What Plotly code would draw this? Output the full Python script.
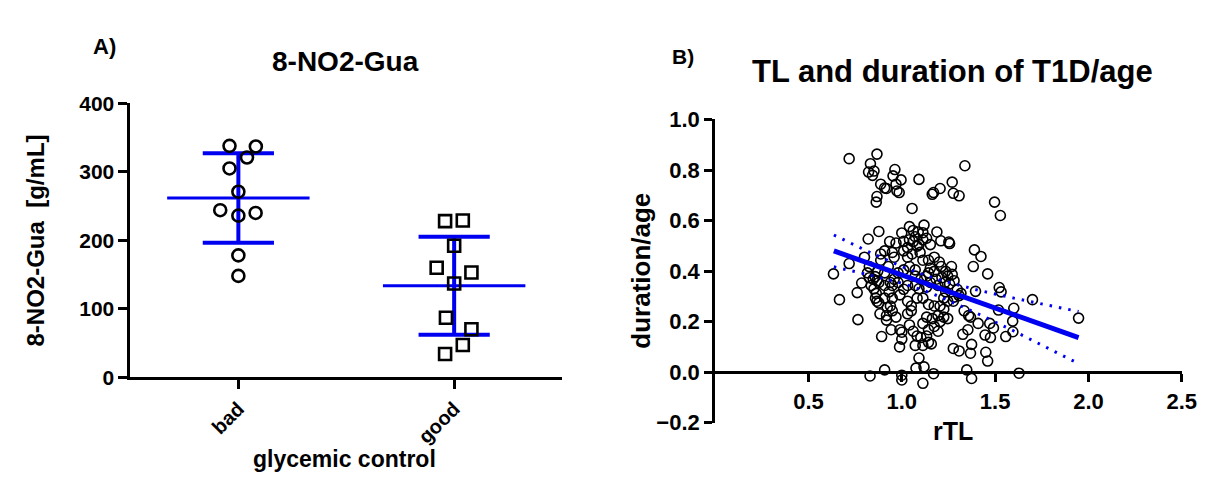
import numpy as np
import plotly.graph_objects as go

# ---------------- data ----------------
categories = ["bad", "good"]
bad_values = [338, 337, 321, 305, 271, 244, 236, 240, 178, 148]
bad_jitter = [-0.041, 0.081, 0.040, -0.041, 0.0, -0.084, 0.0, 0.080, 0.0, 0.0]
good_values = [228, 229, 192, 160, 153, 137, 87, 70, 47, 34]
good_jitter = [-0.042, 0.040, 0.0, -0.081, 0.080, 0.0, -0.038, 0.080, 0.040, -0.042]

a_yticks = [0, 100, 200, 300, 400]

rtl = [0.718, 0.867, 0.832, 0.822, 0.851, 0.843, 0.963, 0.953, 0.996, 0.887, 0.908, 0.918, 0.969, 0.986,
       0.974, 0.867, 0.863, 1.092, 1.055, 1.170, 1.163, 1.205, 1.270, 1.276, 1.307, 1.338, 1.497, 1.528,
       1.119, 1.041, 1.061, 1.088, 1.000, 1.113, 1.188, 0.877, 0.820, 0.935, 1.061, 1.092, 1.209, 1.252,
       1.256, 1.389, 1.424, 1.383, 1.460, 1.522, 1.532, 1.700, 1.600, 1.518, 1.947, 1.594, 1.595, 1.557,
       1.471, 1.491, 1.475, 1.446, 1.409, 1.358, 1.368, 1.334, 1.395, 1.307, 1.317, 1.280, 1.276, 1.354,
       1.327, 1.374, 1.368, 1.276, 1.307, 1.450, 1.460, 1.348, 1.374, 1.628, 1.113, 1.170, 1.119, 1.076,
       1.092, 1.000, 1.000, 0.908, 0.830, 0.988, 1.000, 1.000, 0.943, 0.892, 0.918, 0.883, 0.922, 0.939,
       0.877, 0.867, 0.859, 0.851, 0.863, 0.785, 0.761, 0.765, 0.666, 0.634, 0.718, 0.800, 0.826, 0.847,
       0.867, 0.887, 0.887, 0.949, 0.959, 1.010, 1.031, 1.031, 1.055, 1.082, 1.098, 1.113, 1.143, 1.174,
       1.201, 1.211, 1.174, 1.143, 1.246, 1.266, 1.270, 1.280, 1.256, 1.297, 1.231, 1.194, 1.153, 1.133,
       1.092, 1.072, 1.031, 1.010, 0.980, 0.949, 0.932, 0.908, 0.949, 0.990, 1.031, 1.051, 1.082, 1.113,
       1.143, 1.174, 1.205, 1.225, 1.246, 1.225, 1.194, 1.164, 1.133, 1.113, 1.143, 1.174, 1.194, 1.205,
       1.133, 1.102, 1.082, 1.113, 1.143, 1.158, 1.072, 1.041, 1.061, 1.031, 1.051, 0.990, 0.969, 0.949,
       0.908, 0.939, 0.959, 0.908, 0.871, 0.857, 0.826, 0.816, 0.836, 0.877, 0.928, 0.980, 1.010, 1.041,
       1.072, 1.072, 1.102, 1.133, 1.153, 1.184, 1.215, 1.235, 0.969, 1.010, 1.041, 1.072, 1.235, 1.225,
       1.246, 0.918, 0.908, 1.133, 1.153, 1.113]
duration_age = [0.845, 0.863, 0.825, 0.792, 0.796, 0.779, 0.802, 0.777, 0.761, 0.744, 0.729, 0.727, 0.744, 0.711,
                0.717, 0.695, 0.673, 0.763, 0.648, 0.711, 0.704, 0.727, 0.752, 0.708, 0.698, 0.817, 0.673, 0.620,
                0.582, 0.576, 0.561, 0.555, 0.551, 0.552, 0.555, 0.557, 0.527, 0.517, 0.517, 0.505, 0.520, 0.515,
                0.509, 0.484, 0.458, 0.418, 0.389, 0.335, 0.318, 0.287, 0.253, 0.246, 0.214, 0.202, 0.160, 0.141,
                0.193, 0.175, 0.137, 0.147, 0.193, 0.224, 0.218, 0.243, 0.320, 0.303, 0.312, 0.297, 0.281, 0.168,
                0.150, 0.110, 0.075, 0.094, 0.084, 0.079, 0.044, 0.009, -0.025, -0.004, -0.044, -0.006, 0.021, 0.016,
                0.056, -0.012, -0.031, 0.009, -0.015, 0.100, 0.131, 0.158, 0.168, 0.141, 0.206, 0.231, 0.256, 0.262,
                0.274, 0.281, 0.293, 0.330, 0.312, 0.353, 0.315, 0.208, 0.287, 0.389, 0.430, 0.455, 0.418, 0.368,
                0.362, 0.443, 0.468, 0.474, 0.455, 0.480, 0.493, 0.455, 0.468, 0.499, 0.474, 0.443, 0.443, 0.455,
                0.436, 0.418, 0.399, 0.393, 0.380, 0.418, 0.387, 0.362, 0.349, 0.328, 0.355, 0.343, 0.355, 0.337,
                0.330, 0.343, 0.343, 0.328, 0.355, 0.343, 0.318, 0.293, 0.293, 0.306, 0.281, 0.262, 0.293, 0.293,
                0.268, 0.262, 0.262, 0.249, 0.212, 0.218, 0.224, 0.212, 0.218, 0.193, 0.168, 0.181, 0.162, 0.200,
                0.143, 0.137, 0.143, 0.106, 0.118, 0.112, 0.106, 0.187, 0.162, 0.231, 0.243, 0.168, 0.218, 0.243,
                0.343, 0.355, 0.368, 0.393, 0.399, 0.378, 0.374, 0.393, 0.343, 0.355, 0.418, 0.393, 0.405, 0.418,
                0.405, 0.380, 0.368, 0.380, 0.412, 0.368, 0.374, 0.399, 0.511, 0.518, 0.524, 0.536, 0.318, 0.293,
                0.281, 0.224, 0.480, 0.530, 0.505, 0.524]

fit_x = [0.636, 0.815, 1.0, 1.1, 1.2, 1.4, 1.6, 1.8, 1.947]
fit_y = [0.480, 0.433, 0.385, 0.359, 0.333, 0.280, 0.228, 0.175, 0.137]
ci_upper = [0.543, 0.479, 0.418, 0.390, 0.366, 0.326, 0.293, 0.262, 0.240]
ci_lower = [0.417, 0.387, 0.352, 0.328, 0.300, 0.234, 0.163, 0.088, 0.034]

b_xticks = [0.5, 1.0, 1.5, 2.0, 2.5]
b_yticks = [-0.2, 0.0, 0.2, 0.4, 0.6, 0.8, 1.0]

# ---------------- layout helpers ----------------
W, H = 1212, 477
def PX(x):
    return x / W
def PY(y):
    return 1 - y / H

FONT = "Liberation Sans, Arial, Helvetica, sans-serif"
BLUE = "#0000f0"

fig = go.Figure()

# ----- panel A -----
groups = [(0, bad_values, bad_jitter, "circle-open"), (1, good_values, good_jitter, "square-open")]
for pos, vals, jit, sym in groups:
    v = np.array(vals, dtype=float)
    m = v.mean()
    s = v.std(ddof=1)
    fig.add_trace(go.Scatter(x=[pos - 0.33, pos + 0.33], y=[m, m], mode="lines",
                             line=dict(color=BLUE, width=3), xaxis="x", yaxis="y", showlegend=False))
    fig.add_trace(go.Scatter(x=[pos, pos], y=[m - s, m + s], mode="lines",
                             line=dict(color=BLUE, width=4), xaxis="x", yaxis="y", showlegend=False))
    fig.add_trace(go.Scatter(x=[pos - 0.165, pos + 0.165, None, pos - 0.165, pos + 0.165],
                             y=[m + s, m + s, None, m - s, m - s], mode="lines",
                             line=dict(color=BLUE, width=4), xaxis="x", yaxis="y", showlegend=False))
    fig.add_trace(go.Scatter(x=[pos + j for j in jit], y=vals, mode="markers",
                             marker=dict(symbol=sym, size=12, color="black", line=dict(width=2.6, color="black")),
                             xaxis="x", yaxis="y", showlegend=False, cliponaxis=False))

# ----- panel B -----
fig.add_trace(go.Scatter(x=rtl, y=duration_age, mode="markers",
                         marker=dict(symbol="circle-open", size=10, color="black", line=dict(width=1.6, color="black")),
                         xaxis="x2", yaxis="y2", showlegend=False, cliponaxis=False))
fig.add_trace(go.Scatter(x=fit_x, y=ci_upper, mode="lines", line=dict(color=BLUE, width=3, dash="2.5px,7px"),
                         xaxis="x2", yaxis="y2", showlegend=False))
fig.add_trace(go.Scatter(x=fit_x, y=ci_lower, mode="lines", line=dict(color=BLUE, width=3, dash="2.5px,7px"),
                         xaxis="x2", yaxis="y2", showlegend=False))
fig.add_trace(go.Scatter(x=[fit_x[0], fit_x[-1]], y=[fit_y[0], fit_y[-1]], mode="lines",
                         line=dict(color=BLUE, width=5), xaxis="x2", yaxis="y2", showlegend=False))

axis_common = dict(showline=True, linecolor="black", showgrid=False, zeroline=False,
                   ticks="outside", tickcolor="black", fixedrange=True)

b_ydom = [PY(425), PY(105)]
b_x_pos = b_ydom[0] + (0 - (-0.2)) / 1.2 * (b_ydom[1] - b_ydom[0])

fig.update_layout(
    width=W, height=H,
    margin=dict(l=0, r=0, t=0, b=0),
    paper_bgcolor="white", plot_bgcolor="white",
    font=dict(family=FONT, color="black", weight=700),
    xaxis=dict(**axis_common, domain=[PX(124), PX(561)], range=[-0.5, 1.5], anchor="y",
               tickvals=[0, 1], ticktext=categories, tickangle=-45, linewidth=3, tickwidth=3, ticklen=9,
               tickfont=dict(size=20, family=FONT, weight=700, color="black")),
    yaxis=dict(**axis_common, domain=[PY(377), PY(88)], range=[0, 400], anchor="x",
               tickvals=a_yticks, linewidth=3, tickwidth=3, ticklen=9,
               tickfont=dict(size=21, family=FONT, weight=700, color="black")),
    xaxis2=dict(**axis_common, domain=[PX(716), PX(1188.5)], range=[0, 2.5], anchor="free", position=b_x_pos,
                tickvals=b_xticks, tickformat=".1f", linewidth=3, tickwidth=3, ticklen=8,
                tickfont=dict(size=22, family=FONT, weight=700, color="black")),
    yaxis2=dict(**axis_common, domain=b_ydom, range=[-0.2, 1.0], anchor="x2",
                tickvals=b_yticks, tickformat=".1f", linewidth=3, tickwidth=3, ticklen=8,
                tickfont=dict(size=22, family=FONT, weight=700, color="black")),
)

def ann(text, x, y, size, angle=0):
    fig.add_annotation(text=text, x=PX(x), y=PY(y), xref="paper", yref="paper",
                       xanchor="center", yanchor="middle", showarrow=False, textangle=angle,
                       font=dict(size=size, family=FONT, weight=700, color="black"))

ann("A)", 97.5, 28, 22)
ann("8-NO2-Gua", 342, 44, 28)
ann("8-NO2-Gua  [g/mL]", 27.5, 232.5, 24, -90)
ann("glycemic control", 340.5, 463, 23)
ann("B)", 683, 38, 21)
ann("TL and duration of T1D/age", 956, 54, 31)
ann("duration/age", 641, 264.5, 26, -90)
ann("rTL", 957, 434, 25)

fig.write_html("out.html")
